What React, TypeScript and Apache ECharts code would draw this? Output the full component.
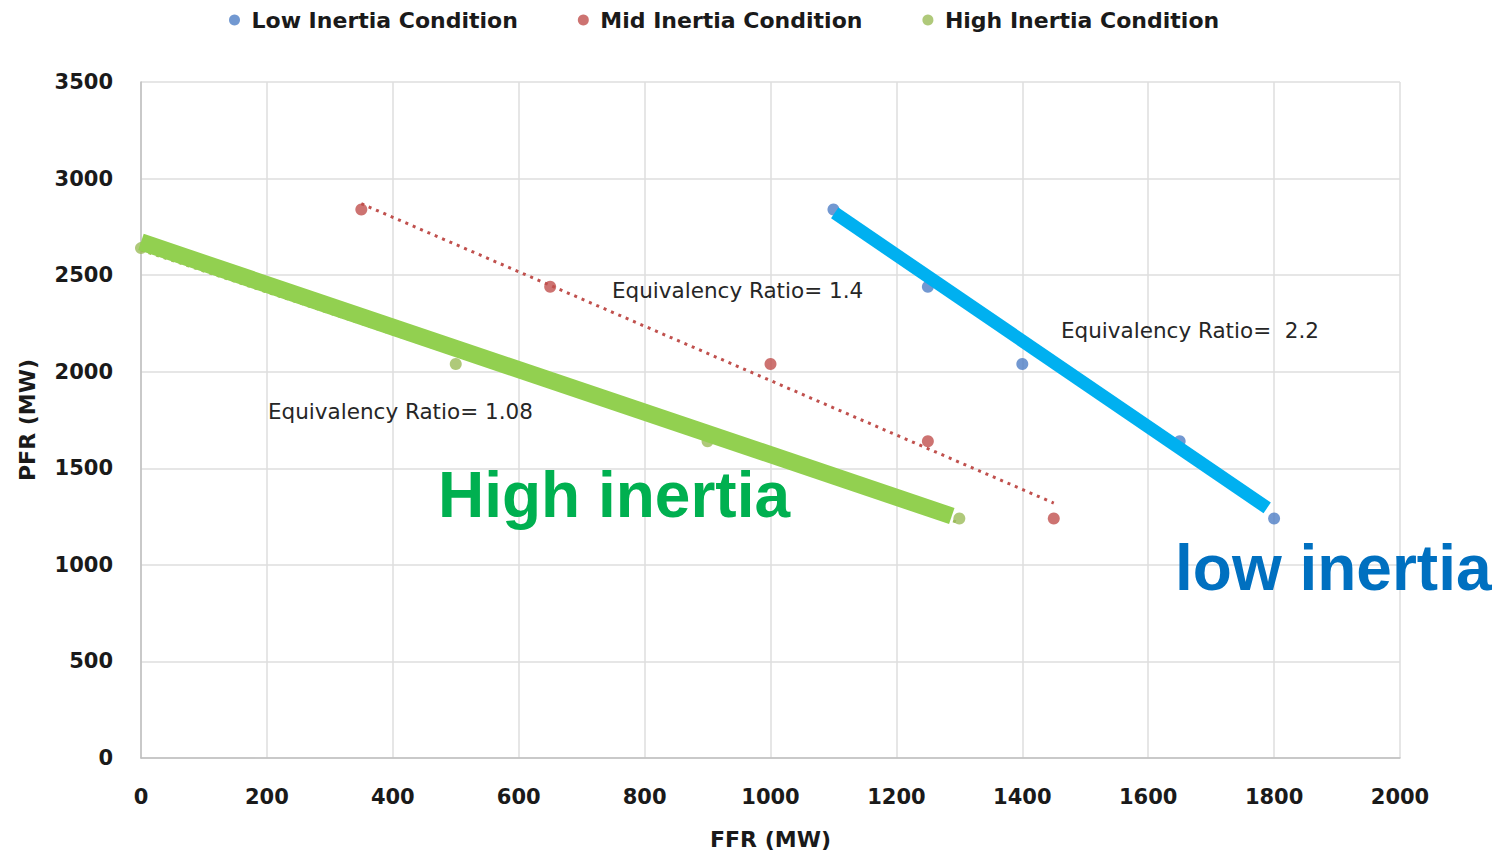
import React, { useEffect, useRef } from "react";
import * as echarts from "echarts";

const lowInertia: [number, number][] = [
  [1100, 2840], [1250, 2440], [1400, 2040], [1650, 1640], [1800, 1240],
];
const midInertia: [number, number][] = [
  [350, 2840], [650, 2440], [1000, 2040], [1250, 1640], [1450, 1240],
];
const highInertia: [number, number][] = [
  [0, 2640], [200, 2440], [500, 2040], [900, 1640], [1300, 1240],
];
// trendlines (endpoints)
const midTrend: [number, number][] = [[350, 2870], [1450, 1320]];
const highTrend: [number, number][] = [[0, 2630], [1300, 1217]];
// hand-drawn highlight strokes
const highStroke: [number, number][] = [[0, 2672], [1288, 1253]];
const lowStroke: [number, number][] = [[1102, 2822], [1789, 1295]];

const seriesNames = ["Low Inertia Condition", "Mid Inertia Condition", "High Inertia Condition"];
const colors = ["#4F7EC6", "#C0504D", "#9BBB59"];

const annotations = [
  { text: "Equivalency Ratio= 1.4", x: 612, y: 292 },
  { text: "Equivalency Ratio=  2.2", x: 1061, y: 332 },
  { text: "Equivalency Ratio= 1.08", x: 268, y: 413 },
];

export default function App() {
  const ref = useRef<HTMLDivElement>(null);
  useEffect(() => {
    if (!ref.current) return;
    const chart = echarts.init(ref.current, null, { renderer: "svg" });
    const tickFont = { fontFamily: "DejaVu Sans", fontWeight: "bold" as const, fontSize: 21, color: "#1a1a1a" };
    const nameFont = { fontFamily: "DejaVu Sans", fontWeight: "bold" as const, fontSize: 22, color: "#1a1a1a" };
    chart.setOption({
      animation: false,
      backgroundColor: "#ffffff",
      grid: { left: 141, right: 93, top: 82, bottom: 101 },
      legend: {
        top: 4,
        left: 224,
        icon: "circle",
        itemWidth: 24,
        itemHeight: 11,
        itemGap: 60,
        data: seriesNames,
        textStyle: { fontFamily: "DejaVu Sans", fontWeight: "bold", fontSize: 22, color: "#1a1a1a" },
      },
      xAxis: {
        type: "value",
        min: 0,
        max: 2000,
        interval: 200,
        name: "FFR (MW)",
        nameLocation: "middle",
        nameGap: 70,
        nameTextStyle: nameFont,
        axisLine: { show: true, lineStyle: { color: "#bfbfbf", width: 1.5 } },
        axisTick: { show: false },
        axisLabel: { ...tickFont, margin: 28, formatter: (v: number) => String(v) },
        splitLine: { show: true, lineStyle: { color: "#dedede", width: 1.5 } },
      },
      yAxis: {
        type: "value",
        min: 0,
        max: 3500,
        interval: 500,
        name: "PFR (MW)",
        nameLocation: "middle",
        nameGap: 103,
        nameTextStyle: nameFont,
        axisLine: { show: true, lineStyle: { color: "#bfbfbf", width: 1.5 } },
        axisTick: { show: false },
        axisLabel: { ...tickFont, margin: 28, formatter: (v: number) => String(v) },
        splitLine: { show: true, lineStyle: { color: "#dedede", width: 1.5 } },
      },
      series: [
        {
          name: seriesNames[0], type: "scatter", data: lowInertia, symbolSize: 12,
          itemStyle: { color: colors[0] }, z: 2,
        },
        {
          name: seriesNames[1], type: "scatter", data: midInertia, symbolSize: 12,
          itemStyle: { color: colors[1] }, z: 2,
        },
        {
          name: seriesNames[2], type: "scatter", data: highInertia, symbolSize: 12,
          itemStyle: { color: colors[2] }, z: 2,
        },
        {
          type: "line", data: midTrend, showSymbol: false, symbol: "none", z: 3,
          lineStyle: { color: colors[1], width: 3, type: [3, 5] },
        },
        {
          type: "line", data: highTrend, showSymbol: false, symbol: "none", z: 3,
          lineStyle: { color: colors[2], width: 3, type: [3, 5] },
        },
        {
          type: "line", data: highStroke, showSymbol: false, symbol: "none", z: 4, clip: false,
          lineStyle: { color: "#92D050", width: 17, cap: "butt" },
        },
        {
          type: "line", data: lowStroke, showSymbol: false, symbol: "none", z: 4, clip: false,
          lineStyle: { color: "#00B0F0", width: 13, cap: "butt" },
        },
      ],
      graphic: [
        ...annotations.map((a) => ({
          type: "text", left: a.x, top: a.y - 13, z: 10,
          style: { text: a.text, fontFamily: "DejaVu Sans", fontSize: 21.5, fill: "#262626" },
        })),
        {
          type: "text", x: 438, y: 495, z: 10,
          style: {
            text: "High inertia", fontFamily: "Liberation Sans", fontWeight: "bold",
            fontSize: 64, fill: "#00B050", verticalAlign: "middle",
          },
        },
        {
          type: "text", x: 1175, y: 568, z: 10,
          style: {
            text: "low inertia", fontFamily: "Liberation Sans", fontWeight: "bold",
            fontSize: 64, fill: "#0070C0", verticalAlign: "middle",
          },
        },
      ],
    });
    return () => chart.dispose();
  }, []);
  return <div ref={ref} style={{ position: "fixed", left: 0, top: 0, width: 1493, height: 859 }} />;
}
